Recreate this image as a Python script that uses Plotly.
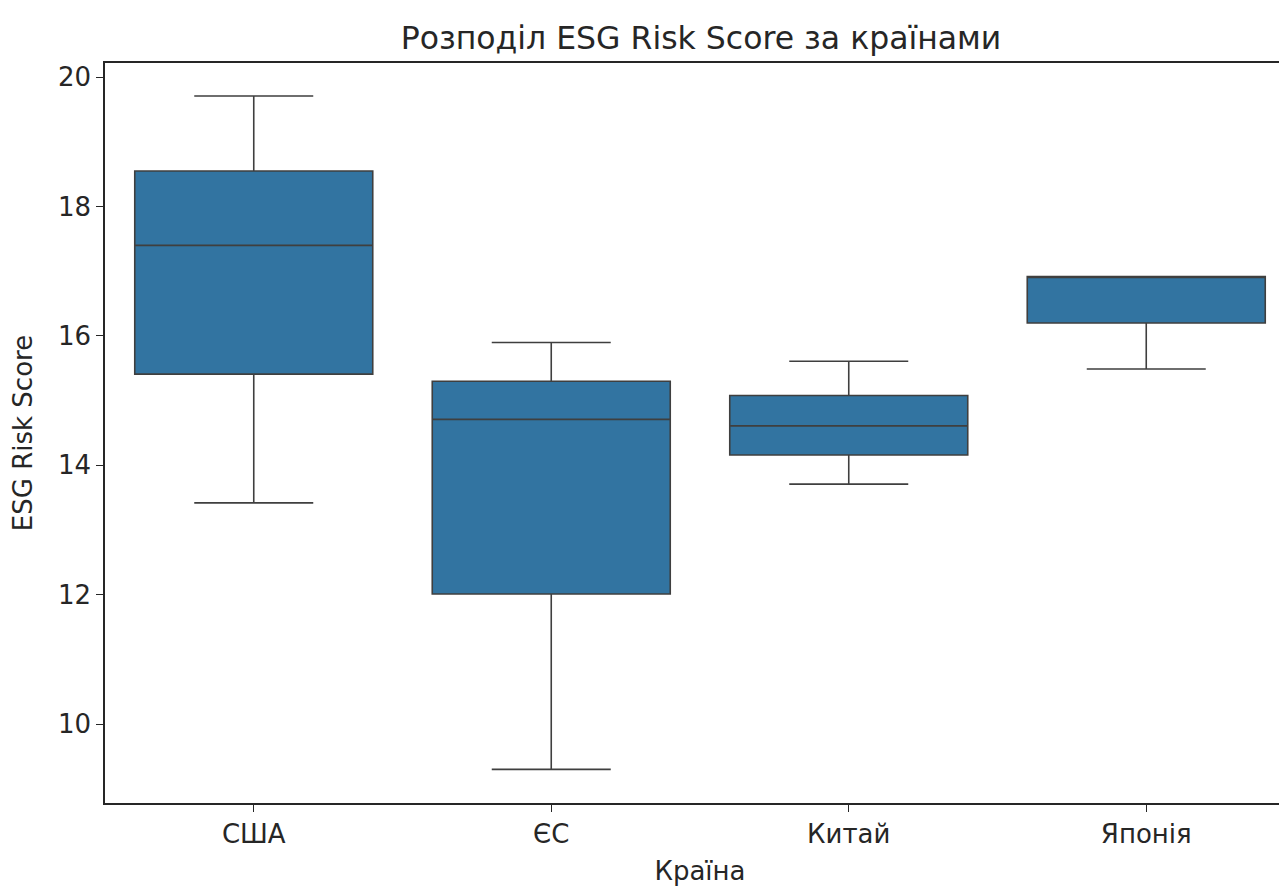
import plotly.graph_objects as go

countries = ["США", "ЄС", "Китай", "Японія"]
q1 = [15.41, 12.01, 14.16, 16.20]
median = [17.40, 14.71, 14.61, 16.92]
q3 = [18.55, 15.30, 15.08, 16.92]
lowerfence = [13.42, 9.30, 13.71, 15.49]
upperfence = [19.71, 15.90, 15.61, 16.92]

y_ticks = [10, 12, 14, 16, 18, 20]

font_family = "DejaVu Sans"
line_col = "#3f3f3f"
txt_col = "#262626"

fig = go.Figure()
fig.add_trace(go.Box(
    x=countries,
    q1=q1, median=median, q3=q3,
    lowerfence=lowerfence, upperfence=upperfence,
    fillcolor="#3274a1",
    line=dict(color=line_col, width=1.6),
    width=0.8,
    whiskerwidth=0.5,
    boxpoints=False,
    showlegend=False,
    hoverinfo="skip",
))

fig.update_layout(
    width=1287, height=886,
    margin=dict(l=97, r=0, t=55, b=91),
    paper_bgcolor="white", plot_bgcolor="white",
    font=dict(family=font_family, color=txt_col),
    title=dict(text="Розподіл ESG Risk Score за країнами", x=693/1287, xref="container",
               xanchor="center", y=1 - 30/886, yanchor="middle",
               font=dict(size=31.5, family=font_family, color=txt_col)),
    xaxis=dict(
        type="category", categoryorder="array", categoryarray=countries,
        range=[-0.5, 3.5],
        showline=True, linecolor=txt_col, linewidth=1.6, mirror=True,
        ticks="outside", ticklen=7, tickwidth=1.3, tickcolor=txt_col,
        showgrid=False, zeroline=False,
        tickfont=dict(size=26, family=font_family, color=txt_col),
        title=dict(text="Країна", font=dict(size=26, family=font_family, color=txt_col), standoff=14),
    ),
    yaxis=dict(
        range=[8.78, 20.22],
        tickvals=y_ticks, ticktext=[str(v) for v in y_ticks],
        showline=True, linecolor=txt_col, linewidth=1.6,
        ticks="outside", ticklen=7, tickwidth=1.3, tickcolor=txt_col,
        showgrid=False, zeroline=False,
        tickfont=dict(size=26, family=font_family, color=txt_col),
        title=dict(text="ESG Risk Score", font=dict(size=26, family=font_family, color=txt_col), standoff=19),
    ),
)

fig.write_html("out.html")
